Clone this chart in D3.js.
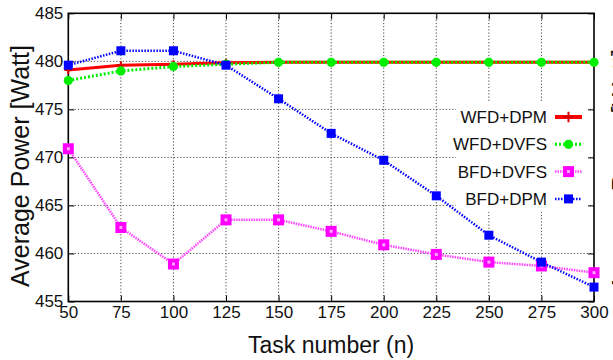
<!DOCTYPE html>
<html lang="en">
<head>
<meta charset="UTF-8">
<title>Average Power</title>
<style>
  body { margin: 0; background: #fff; }
  svg { display: block; font-family: "Liberation Sans", Arial, sans-serif; }
</style>
</head>
<body>
<svg id="chart" width="613" height="360"></svg>
<script src="https://cdn.jsdelivr.net/npm/d3@7"></script>
<script>
// task numbers on the x axis
const taskNumbers = [50, 75, 100, 125, 150, 175, 200, 225, 250, 275, 300];
const yTickValues = [455, 460, 465, 470, 475, 480, 485];

// average power per method (Watt)
const wfdDpm  = [479.1, 479.6, 479.7, 479.85, 479.9, 479.9, 479.9, 479.9, 479.9, 479.9, 479.9];
const wfdDvfs = [478.0, 479.0, 479.45, 479.7, 479.9, 479.9, 479.9, 479.9, 479.9, 479.9, 479.9];
const bfdDvfs = [470.9, 462.7, 458.9, 463.5, 463.5, 462.3, 460.9, 459.9, 459.1, 458.7, 458.0];
const bfdDpm  = [479.6, 481.1, 481.1, 479.6, 476.1, 472.5, 469.7, 466.0, 461.9, 459.1, 456.5];

const seriesNames = ["WFD+DPM", "WFD+DVFS", "BFD+DVFS", "BFD+DPM"];

const styles = {
  "WFD+DPM":  {color: "#ff0000", width: 3,   dash: null,  marker: "plus"},
  "WFD+DVFS": {color: "#00ee00", width: 3,   dash: "2,2", marker: "circle"},
  "BFD+DVFS": {color: "#ff44ff", width: 2.5, dash: "1.5,1", marker: "square"},
  "BFD+DPM":  {color: "#0000ff", width: 2.5, dash: "1.5,1.5", marker: "box"}
};

const series = [wfdDpm, wfdDvfs, bfdDvfs, bfdDpm].map((vals, i) => ({
  name: seriesNames[i],
  points: vals.map((v, j) => ({x: taskNumbers[j], y: v}))
}));

const svg = d3.select("#chart");
const plot = {left: 68.3, right: 594, top: 13.3, bottom: 301.5};

const x = d3.scaleLinear().domain([50, 300]).range([plot.left, plot.right]);
const y = d3.scaleLinear().domain([455, 485]).range([plot.bottom, plot.top]);

// grid
const grid = svg.append("g").attr("stroke", "#333").attr("stroke-width", 1)
  .attr("stroke-dasharray", "1.2,2").attr("opacity", 0.9);
grid.selectAll(".gx").data(taskNumbers.slice(1, -1)).join("line")
  .attr("x1", d => x(d)).attr("x2", d => x(d)).attr("y1", plot.top).attr("y2", plot.bottom);
grid.selectAll(".gy").data(yTickValues.slice(1, -1)).join("line")
  .attr("x1", plot.left).attr("x2", plot.right).attr("y1", d => y(d)).attr("y2", d => y(d));

// legend background (opaque key)
svg.append("rect").attr("x", 456).attr("y", 102).attr("width", 134).attr("height", 110)
  .attr("fill", "#fff");

// axes
const axisFont = 17;
svg.append("g").attr("transform", `translate(0,${plot.bottom})`)
  .call(d3.axisBottom(x).tickValues(taskNumbers).tickSize(-6).tickPadding(4));
svg.append("g").attr("transform", `translate(${plot.left},0)`)
  .call(d3.axisLeft(y).tickValues(yTickValues).tickSize(-6).tickPadding(5));
svg.append("g").attr("transform", `translate(0,${plot.top})`)
  .call(d3.axisTop(x).tickValues(taskNumbers).tickSize(-6).tickFormat(""));
svg.append("g").attr("transform", `translate(${plot.right},0)`)
  .call(d3.axisRight(y).tickValues(yTickValues).tickSize(-6).tickFormat(""));
svg.selectAll(".domain").remove();
svg.selectAll(".tick line").attr("stroke", "#000").attr("stroke-width", 1);
svg.selectAll(".tick text").attr("font-size", axisFont).attr("fill", "#111")
  .attr("font-family", "'Liberation Sans', Arial, sans-serif");

// frame
svg.append("rect").attr("x", plot.left).attr("y", plot.top).attr("width", plot.right - plot.left)
  .attr("height", plot.bottom - plot.top).attr("fill", "none").attr("stroke", "#000").attr("stroke-width", 1.6);

// markers
function drawMarker(g, type, color, cx, cy, big) {
  const k = big ? 1.3 : 1;
  if (type === "plus") {
    g.append("path").attr("d", `M${cx - 4 * k},${cy}H${cx + 4 * k}M${cx},${cy - 4 * k}V${cy + 4 * k}`)
      .attr("stroke", "#dd0000").attr("stroke-width", 2);
  } else if (type === "circle") {
    g.append("circle").attr("cx", cx).attr("cy", cy).attr("r", 4.6).attr("fill", color);
  } else if (type === "square") {
    g.append("rect").attr("x", cx - 5.5).attr("y", cy - 5.5).attr("width", 11).attr("height", 11)
      .attr("fill", "#ff00ff");
    g.append("rect").attr("x", cx - 1.5).attr("y", cy - 1.5).attr("width", 3).attr("height", 3)
      .attr("fill", "#ffaaff");
  } else {
    g.append("rect").attr("x", cx - 4.5).attr("y", cy - 4.5).attr("width", 9).attr("height", 9)
      .attr("fill", color);
  }
}

const line = d3.line().x(d => x(d.x)).y(d => y(d.y));

series.forEach(s => {
  const st = styles[s.name];
  const g = svg.append("g");
  g.append("path").datum(s.points).attr("d", line)
    .attr("fill", "none").attr("stroke", st.color).attr("stroke-width", st.width)
    .attr("stroke-dasharray", st.dash);
  s.points.forEach(p => drawMarker(g, st.marker, st.color, x(p.x), y(p.y)));
});

// legend
const legend = svg.append("g");
series.forEach((s, i) => {
  const st = styles[s.name];
  const ly = 117 + i * 27.3;
  legend.append("text").attr("x", 547).attr("y", ly).attr("dy", "0.35em")
    .attr("text-anchor", "end").attr("font-size", 17).attr("fill", "#111").text(s.name);
  legend.append("line").attr("x1", 555).attr("x2", 582).attr("y1", ly).attr("y2", ly)
    .attr("stroke", st.color).attr("stroke-width", st.marker === "plus" ? 4 : st.width)
    .attr("stroke-dasharray", st.dash);
  drawMarker(legend, st.marker, st.color, 568.5, ly, true);
});

// axis titles
svg.append("text").attr("x", (plot.left + plot.right) / 2).attr("y", 353).attr("text-anchor", "middle")
  .attr("font-size", 23).attr("fill", "#111").text("Task number (n)");
svg.append("text").attr("transform", "translate(29,166) rotate(-90)")
  .attr("text-anchor", "middle").attr("font-size", 25).attr("fill", "#111").text("Average Power [Watt]");

// neighbouring panel's title, cut off at the right edge
svg.append("text").attr("transform", "translate(630,170) rotate(-90)")
  .attr("text-anchor", "middle").attr("font-size", 25).attr("fill", "#111").text("Average Power [Watt]");
</script>
</body>
</html>
